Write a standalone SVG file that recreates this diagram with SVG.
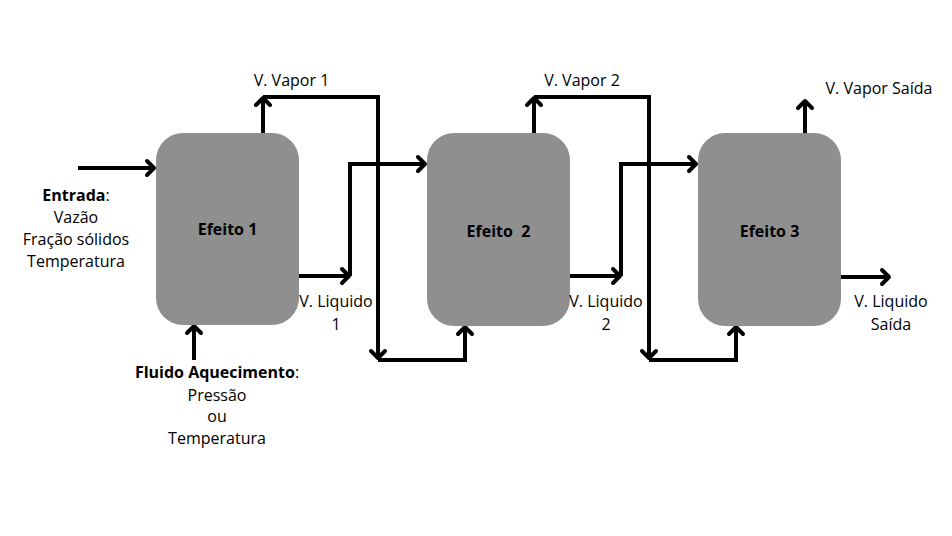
<svg xmlns="http://www.w3.org/2000/svg" width="952" height="536" viewBox="0 0 952 536">
<style>
.box{fill:#8f8f8f}
.ln{fill:none;stroke:#000;stroke-width:4;stroke-linejoin:miter}
.ah{fill:none;stroke:#000;stroke-width:4;stroke-linecap:round;stroke-linejoin:round}
text{font-family:"Open Sans","Noto Sans","Liberation Sans",sans-serif;font-size:16px;fill:#000;text-anchor:middle}
.b{font-weight:bold}
</style>
<rect width="952" height="536" fill="#fff"/>
<g id="connectors">
<path class="ln" d="M78 168 H154"/>
<path class="ah" d="M147 161 L154 168 L147 175"/>
<path class="ln" d="M263 133 V99"/>
<path class="ln" d="M263 97 H378 V357"/>
<path class="ah" d="M256 105 L263 98 L270 105"/>
<path class="ah" d="M371 351 L378 358 L385 351"/>
<path class="ln" d="M378 360 H465 V328"/>
<path class="ah" d="M458 334 L465 327 L472 334"/>
<path class="ln" d="M299 276 H348"/>
<path class="ah" d="M342 269 L349 276 L342 283"/>
<path class="ln" d="M350 276 V164 H425"/>
<path class="ah" d="M418 157 L425 164 L418 171"/>
<path class="ln" d="M534 133 V99"/>
<path class="ln" d="M534 97 H649 V357"/>
<path class="ah" d="M527 105 L534 98 L541 105"/>
<path class="ah" d="M642 351 L649 358 L656 351"/>
<path class="ln" d="M649 360 H736 V328"/>
<path class="ah" d="M729 334 L736 327 L743 334"/>
<path class="ln" d="M570 276 H619"/>
<path class="ah" d="M613 269 L620 276 L613 283"/>
<path class="ln" d="M621 276 V164 H696"/>
<path class="ah" d="M689 157 L696 164 L689 171"/>
<path class="ln" d="M805 133 V102"/>
<path class="ah" d="M798 108 L805 101 L812 108"/>
<path class="ln" d="M841 277 H889"/>
<path class="ah" d="M882 270 L889 277 L882 284"/>
<path class="ln" d="M194 360 V327"/>
<path class="ah" d="M187 333 L194 326 L201 333"/>
</g>
<g id="efeito1">
<rect class="box" x="156" y="133" width="143" height="192" rx="27"/>
<text class="b" x="227.5" y="234.5">Efeito 1</text>
</g>
<g id="efeito2">
<rect class="box" x="427" y="133" width="143" height="193" rx="27"/>
<text class="b" x="498.5" y="236.5" xml:space="preserve">Efeito  2</text>
</g>
<g id="efeito3">
<rect class="box" x="698" y="133" width="143" height="193" rx="27"/>
<text class="b" x="769.5" y="236.5">Efeito 3</text>
</g>
<g id="labels">
<text x="291.5" y="85.5">V. Vapor 1</text>
<text x="582" y="85.5">V. Vapor 2</text>
<text x="879" y="94">V. Vapor Saída</text>
<text x="76" y="200.5"><tspan class="b">Entrada</tspan>:</text>
<text x="76" y="222.5">Vazão</text>
<text x="76" y="245">Fração sólidos</text>
<text x="76" y="267">Temperatura</text>
<text x="336" y="307">V. Liquido</text>
<text x="336" y="330">1</text>
<text x="606" y="307">V. Liquido</text>
<text x="606" y="330">2</text>
<text x="891" y="307">V. Liquido</text>
<text x="891" y="330">Saída</text>
<text x="217" y="378"><tspan class="b">Fluido Aquecimento</tspan>:</text>
<text x="217" y="400.5">Pressão</text>
<text x="217" y="422">ou</text>
<text x="217" y="444">Temperatura</text>
</g>
</svg>
